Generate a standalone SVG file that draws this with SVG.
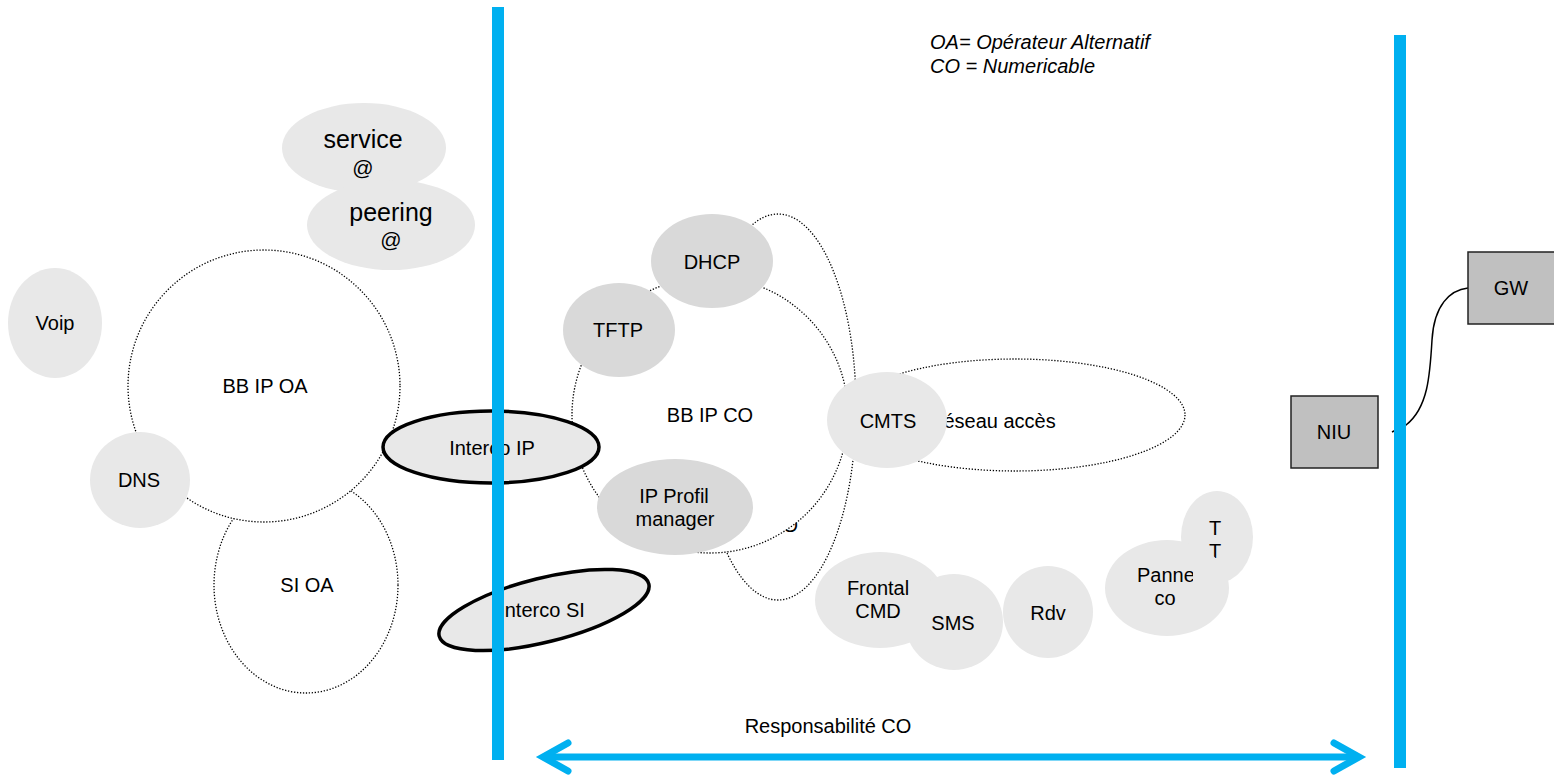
<svg xmlns="http://www.w3.org/2000/svg" width="1554" height="776" viewBox="0 0 1554 776">
<defs>
<style>
text{font-family:"Liberation Sans",Arial,sans-serif;font-size:20px;fill:#000;text-anchor:middle}
.dot{fill:#fff;stroke:#000;stroke-width:1.3;stroke-dasharray:1.3 1.7}
.lg{fill:#e8e8e8;stroke:none}
.dg{fill:#d9d9d9;stroke:none}
.thick{fill:#e8e8e8;stroke:#000;stroke-width:3.5}
.box{fill:#c0c0c0;stroke:#222;stroke-width:1.5}
.blue{stroke:#00b0f0;fill:none}
.it{font-style:italic;text-anchor:start}
.at{font-size:21px}
</style>
<clipPath id="panneClip"><rect x="1100" y="540" width="93" height="100"/></clipPath>
</defs>
<rect width="1554" height="776" fill="#fff"/>

<g id="si-oa"><ellipse class="dot" cx="306" cy="585" rx="92" ry="108"/><text x="307" y="592">SI OA</text></g>
<g id="bb-ip-oa"><circle class="dot" cx="264" cy="386" r="136"/><text x="265" y="393">BB IP OA</text></g>
<g id="dns"><ellipse class="lg" cx="140" cy="480" rx="50" ry="48"/><text x="139" y="487">DNS</text></g>
<g id="voip"><ellipse class="lg" cx="55" cy="323" rx="47" ry="55"/><text x="55" y="330">Voip</text></g>
<g id="service"><ellipse class="lg" cx="364" cy="148" rx="82" ry="45"/><text x="363" y="148" style="font-size:25px">service</text><text class="at" x="363" y="175">@</text></g>
<g id="peering"><ellipse class="lg" cx="391" cy="225" rx="84" ry="45"/><text x="391" y="221" style="font-size:25px">peering</text><text class="at" x="391" y="247">@</text></g>

<g id="si-co"><ellipse class="dot" cx="778" cy="407" rx="78" ry="193"/><text x="798" y="532" style="text-anchor:end">SI CO</text></g>
<g id="bb-ip-co"><circle class="dot" cx="710" cy="415" r="138"/><text x="710" y="422">BB IP CO</text></g>
<g id="reseau-acces"><ellipse class="dot" cx="1015" cy="415" rx="170" ry="56"/><text x="929" y="428" style="text-anchor:start">Réseau accès</text></g>
<g id="cmts"><ellipse class="lg" cx="887" cy="420" rx="60" ry="48"/><text x="888" y="428">CMTS</text></g>
<g id="dhcp"><ellipse class="dg" cx="712" cy="261" rx="61" ry="47"/><text x="712" y="269">DHCP</text></g>
<g id="tftp"><ellipse class="dg" cx="619" cy="330" rx="56" ry="47"/><text x="618" y="337">TFTP</text></g>
<g id="ip-profil"><ellipse class="dg" cx="675" cy="507" rx="78" ry="48"/><text x="674" y="503">IP Profil</text><text x="675" y="526">manager</text></g>

<g id="interco-ip"><ellipse class="thick" cx="491" cy="447" rx="108" ry="36"/><text x="492" y="455">Interco IP</text></g>
<g id="interco-si"><ellipse class="thick" cx="544" cy="610" rx="108" ry="32" transform="rotate(-14 544 610)"/><text x="542" y="617">Interco SI</text></g>

<g id="frontal"><ellipse class="lg" cx="880" cy="600" rx="65" ry="48"/><text x="878" y="595">Frontal</text><text x="878" y="618">CMD</text></g>
<g id="sms"><ellipse class="lg" cx="954" cy="622" rx="49" ry="48"/><text x="953" y="630">SMS</text></g>
<g id="rdv"><ellipse class="lg" cx="1048" cy="612" rx="45" ry="46"/><text x="1048" y="620">Rdv</text></g>
<g id="tt"><ellipse class="lg" cx="1217" cy="537" rx="36" ry="46"/><text x="1215" y="535">T</text><text x="1215" y="558">T</text></g>
<g id="panne"><ellipse class="lg" cx="1167" cy="588" rx="62" ry="48"/><g clip-path="url(#panneClip)"><text x="1137" y="582" style="text-anchor:start">Panne</text><text x="1165" y="605">co</text></g></g>

<g id="connectors">
<path d="M1392 432 L1400 428 L1406 425 C1428 408 1430 375 1432 340 C1434 305 1450 290 1468 288" fill="none" stroke="#000" stroke-width="1.5"/>
</g>
<g id="niu"><rect class="box" x="1291" y="396" width="87" height="72"/><text x="1334" y="439">NIU</text></g>
<g id="gw"><rect class="box" x="1468" y="252" width="90" height="72"/><text x="1511" y="295">GW</text></g>

<g id="boundaries">
<line class="blue" x1="498" y1="7" x2="498" y2="760" stroke-width="12"/>
<line class="blue" x1="1400" y1="35" x2="1400" y2="768" stroke-width="12"/>
<g stroke-width="7" stroke-linecap="round" stroke-linejoin="miter" class="blue">
<line class="blue" x1="545" y1="757" x2="1357" y2="757"/>
<polyline class="blue" points="568,743 543,757 568,771"/>
<polyline class="blue" points="1334,743 1359,757 1334,771"/>
</g>
<text x="828" y="733">Responsabilité CO</text>
</g>

<g id="legend"><text class="it" x="930" y="49">OA= Opérateur Alternatif</text><text class="it" x="930" y="73">CO = Numericable</text></g>
</svg>
